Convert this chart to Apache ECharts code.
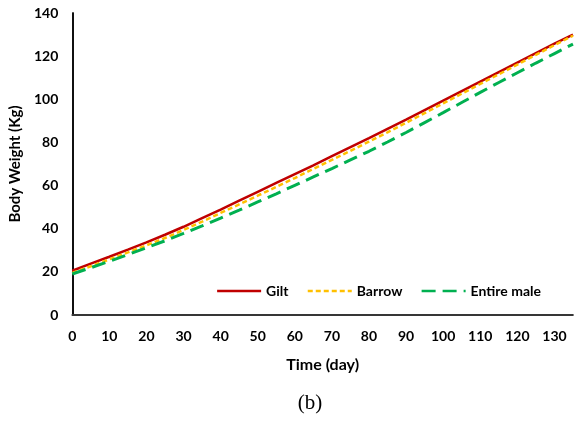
<!DOCTYPE html>
<html style="height: 100%; width: 100%;">
<head>
    <meta charset="utf-8">
    <title>Body Weight over Time</title>
    <script src="https://cdn.jsdelivr.net/npm/echarts@6/dist/echarts.min.js"></script>
    <style>
        body, html {
            margin: 0;
            padding: 0;
            width: 100%;
            height: 100%;
            background: #fff;
        }
        #main {
            width: 582px;
            height: 423px;
        }
    </style>
</head>
<body>
<div id="main"></div>
<script type="text/javascript">
    // days sampled every 5 from 0 to 135
    var days = [0, 5, 10, 15, 20, 25, 30, 35, 40, 45, 50, 55, 60, 65, 70,
                75, 80, 85, 90, 95, 100, 105, 110, 115, 120, 125, 130, 135];
    var gilt = [20.5, 23.8, 27.0, 30.3, 33.7, 37.2, 40.9, 44.9, 48.9, 53.0, 57.1, 61.2, 65.3, 69.4, 73.6,
                77.8, 82.0, 86.3, 90.6, 95.0, 99.4, 103.8, 108.2, 112.6, 117.0, 121.4, 125.8, 130.0];
    var barrow = [19.5, 22.6, 25.8, 29.0, 32.3, 35.7, 39.4, 43.3, 47.3, 51.3, 55.3, 59.4, 63.5, 67.7, 71.9,
                  76.1, 80.4, 84.7, 89.1, 93.6, 98.1, 102.6, 107.1, 111.6, 116.1, 120.6, 125.1, 129.5];
    var entireMale = [19.0, 21.9, 24.9, 28.0, 31.2, 34.4, 37.8, 41.3, 44.9, 48.6, 52.4, 56.2, 60.1, 64.0, 67.9,
                      71.9, 75.9, 80.2, 84.6, 89.2, 93.8, 98.5, 103.2, 107.8, 112.3, 116.8, 121.2, 125.6];

    function pairs(ys) {
        return days.map(function (d, i) { return [d, ys[i]]; });
    }

    var font = 'Lato, "Open Sans", sans-serif';
    var chart = echarts.init(document.getElementById('main'));

    var option = {
        animation: false,
        backgroundColor: '#fff',
        grid: { left: 71, top: 13, right: 9, bottom: 108 },
        title: {
            text: '(b)',
            left: 305,
            top: 388,
            textAlign: 'center',
            textStyle: { fontFamily: '"Liberation Serif", "DejaVu Serif", serif', fontSize: 21, fontWeight: 'normal', color: '#000' }
        },
        legend: {
            right: 36,
            top: 279,
            itemWidth: 44,
            itemHeight: 14,
            itemGap: 18,
            itemStyle: { opacity: 0 },
            lineStyle: { width: 2.5 },
            textStyle: { fontFamily: font, fontSize: 14, fontWeight: 'bold', color: '#000' },
            data: ['Gilt', 'Barrow', 'Entire male']
        },
        xAxis: [
            {
                type: 'value',
                min: 0,
                max: 135,
                interval: 10,
                name: 'Time (day)',
                nameLocation: 'middle',
                nameGap: 42,
                nameTextStyle: { fontFamily: font, fontSize: 16, fontWeight: 'bold', color: '#000' },
                axisLine: { show: true, lineStyle: { color: '#d9d9d9', width: 2 } },
                axisTick: { show: false },
                splitLine: { show: false },
                axisLabel: { showMaxLabel: false, margin: 14, fontFamily: font, fontSize: 14, fontWeight: 'bold', color: '#000' }
            },
            {
                type: 'value',
                position: 'top',
                min: 0,
                max: 135,
                axisLine: { show: true, lineStyle: { color: '#000', width: 1.5 } },
                axisTick: { show: false },
                axisLabel: { show: false },
                splitLine: { show: false }
            }
        ],
        yAxis: [
            {
                type: 'value',
                min: 0,
                max: 140,
                interval: 20,
                name: 'Body Weight (Kg)',
                nameLocation: 'middle',
                nameGap: 47,
                nameTextStyle: { fontFamily: font, fontSize: 15, fontWeight: 'bold', color: '#000' },
                axisLine: { show: true, lineStyle: { color: '#000', width: 1.5 } },
                axisTick: { show: false },
                splitLine: { show: false },
                axisLabel: { margin: 14, fontFamily: font, fontSize: 14, fontWeight: 'bold', color: '#000' }
            },
            {
                type: 'value',
                position: 'right',
                min: 0,
                max: 140,
                axisLine: { show: true, lineStyle: { color: '#000', width: 1.5 } },
                axisTick: { show: false },
                axisLabel: { show: false },
                splitLine: { show: false }
            }
        ],
        series: [
            {
                name: 'Gilt',
                type: 'line',
                symbol: 'none',
                data: pairs(gilt),
                lineStyle: { color: '#c00000', width: 2.5 },
                itemStyle: { color: '#c00000' }
            },
            {
                name: 'Barrow',
                type: 'line',
                symbol: 'none',
                data: pairs(barrow),
                lineStyle: { color: '#ffc000', width: 2.5, type: [5, 3] },
                itemStyle: { color: '#ffc000' }
            },
            {
                name: 'Entire male',
                type: 'line',
                symbol: 'none',
                data: pairs(entireMale),
                lineStyle: { color: '#00b050', width: 3, type: [14, 7] },
                itemStyle: { color: '#00b050' }
            }
        ]
    };

    chart.setOption(option);
</script>
</body>
</html>
